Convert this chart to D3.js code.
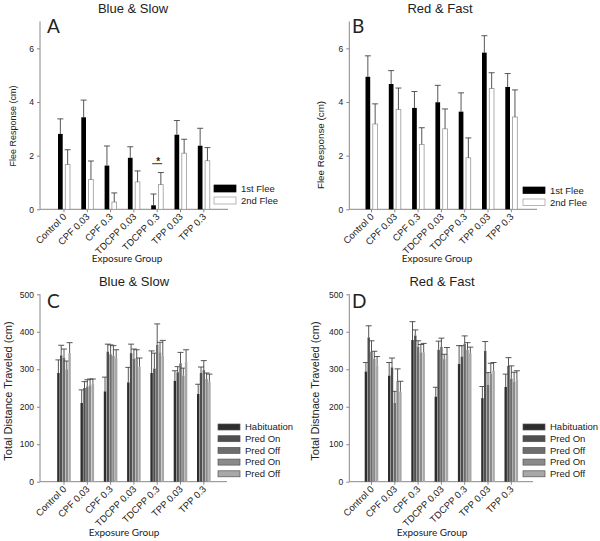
<!DOCTYPE html>
<html><head><meta charset="utf-8">
<script src="https://cdn.jsdelivr.net/npm/d3@7"></script>
<style>
body{margin:0;background:#fff;}
svg{display:block;}
text{font-family:"Liberation Sans",Arial,sans-serif;fill:#222;}
</style></head>
<body>
<svg id="chart" width="600" height="541"></svg>
<script>
// ---------- DATA ----------
const categories = ["Control 0","CPF 0.03","CPF 0.3","TDCPP 0.03","TDCPP 0.3","TPP 0.03","TPP 0.3"];
const fleeSeries = ["1st Flee","2nd Flee"];
const fleeTicks = [0,2,4,6];
const distTicks = [0,100,200,300,400,500];

// Panel A: Blue & Slow (flee response, cm)
const slowFlee1 = [2.81, 3.43, 1.63, 1.92, 0.15, 2.78, 2.37];
const slowFlee1Err = [0.56, 0.64, 0.73, 0.41, 0.42, 0.53, 0.65];
const slowFlee2 = [1.67, 1.11, 0.27, 1.02, 0.92, 2.09, 1.81];
const slowFlee2Err = [0.55, 0.69, 0.34, 0.41, 0.45, 0.52, 0.49];

// Panel B: Red & Fast
const fastFlee1 = [4.94, 4.67, 3.78, 3.99, 3.64, 5.84, 4.56];
const fastFlee1Err = [0.78, 0.50, 0.61, 0.63, 0.70, 0.63, 0.50];
const fastFlee2 = [3.18, 3.72, 2.42, 3.00, 1.92, 4.50, 3.44];
const fastFlee2Err = [0.75, 0.80, 0.62, 0.74, 0.74, 0.59, 1.01];

// Panel C: Blue & Slow (total distance, cm)
const periods = ["Habituation","Pred On","Pred Off","Pred On","Pred Off"];
const slowHab = [290, 210, 241, 265, 290, 269, 234];
const slowHabErr = [35, 35, 38, 40, 59, 27, 26];
const slowOn1 = [337, 250, 347, 343, 302, 292, 290];
const slowOn1Err = [27, 17, 20, 24, 41, 15, 16];
const slowOff1 = [330, 254, 340, 328, 365, 316, 298];
const slowOff1Err = [24, 18, 25, 26, 56, 29, 25];
const slowOn2 = [300, 257, 336, 330, 345, 283, 274];
const slowOn2Err = [22, 17, 27, 22, 27, 20, 16];
const slowOff2 = [343, 261, 330, 307, 336, 320, 267];
const slowOff2Err = [28, 13, 22, 23, 41, 32, 20];

// Panel D: Red & Fast
const fastHab = [294, 283, 378, 227, 314, 223, 253];
const fastHabErr = [24, 35, 49, 25, 49, 31, 34];
const fastOn1 = [385, 305, 390, 352, 334, 349, 309];
const fastOn1Err = [31, 25, 15, 23, 29, 25, 22];
const fastOff1 = [347, 210, 360, 360, 368, 258, 275];
const fastOff1Err = [29, 31, 16, 23, 21, 33, 34];
const fastOn2 = [328, 268, 345, 327, 352, 288, 266];
const fastOn2Err = [20, 33, 21, 13, 19, 28, 26];
const fastOff2 = [309, 240, 345, 338, 343, 296, 273];
const fastOff2Err = [25, 28, 24, 20, 16, 22, 23];

const sigGroup = "TDCPP 0.3";
const sigLevel = 1.7;

// ---------- DRAWING ----------
const svg = d3.select("#chart");
const periodColors = ["#2d2d2d","#4e4e4e","#6d6d6d","#8b8b8b","#a8a8a8"];

function panel(cfg){
  const g = svg.append("g");
  const y = d3.scaleLinear().domain(cfg.yDomain).range([cfg.y0, cfg.yTop]);
  const x = d3.scaleBand().domain(categories).range([cfg.x0, cfg.x0 + 7*23.3]).padding(0);
  const sub = d3.scaleBand().domain(d3.range(cfg.series.length)).range([-cfg.groupHalf, cfg.groupHalf]).padding(0);

  // axes
  const yAxis = d3.axisLeft(y).tickValues(cfg.ticks).tickSize(3).tickPadding(3).tickFormat(d3.format("d"));
  const ya = g.append("g").attr("transform", `translate(${cfg.axisX},0)`).call(yAxis);
  ya.select(".domain").remove();
  ya.selectAll("line").attr("stroke","#888");
  ya.selectAll("text").style("font-size","8.5px").attr("fill","#222");
  g.append("line").attr("x1",cfg.axisX).attr("x2",cfg.axisX).attr("y1",cfg.y0).attr("y2",cfg.yTop).attr("stroke","#888");
  g.append("line").attr("x1",cfg.axisX).attr("x2",cfg.axisEnd).attr("y1",cfg.y0).attr("y2",cfg.y0).attr("stroke","#888");

  // x ticks + labels
  categories.forEach(c=>{
    const cx = x(c) + x.bandwidth()/2;
    g.append("line").attr("x1",cx).attr("x2",cx).attr("y1",cfg.y0).attr("y2",cfg.y0+3).attr("stroke","#888");
    g.append("text").text(c)
      .attr("transform",`translate(${cx+3},${cfg.y0+8}) rotate(-45)`)
      .attr("text-anchor","end").style("font-size","9.5px");
  });

  // bars
  cfg.series.forEach((s, si)=>{
    categories.forEach((c, ci)=>{
      const cx = x(c) + x.bandwidth()/2 + sub(si) + sub.bandwidth()/2;
      const v = s.values[ci], e = s.err[ci];
      g.append("rect")
        .attr("x", cx - cfg.barW/2).attr("width", cfg.barW)
        .attr("y", y(v)).attr("height", cfg.y0 - y(v))
        .attr("fill", s.fill).attr("stroke", s.stroke || "none").attr("stroke-width", s.stroke ? 0.8 : 0);
      g.append("line").attr("x1",cx).attr("x2",cx).attr("y1",y(v)).attr("y2",y(v+e)).attr("stroke","#444").attr("stroke-width",0.9);
      g.append("line").attr("x1",cx-cfg.capW/2).attr("x2",cx+cfg.capW/2).attr("y1",y(v+e)).attr("y2",y(v+e)).attr("stroke","#444").attr("stroke-width",0.9);
    });
  });

  // title, letter, labels
  g.append("text").text(cfg.title).attr("x",cfg.titleX).attr("y",cfg.titleY).attr("text-anchor","middle").style("font-size","13px");
  g.append("text").text(cfg.letter).attr("x",cfg.letterX).attr("y",cfg.letterY).style("font-family","Lato, sans-serif").style("font-size","19px");
  g.append("text").text(cfg.yLabel).attr("transform",`translate(${cfg.yLabelX},${cfg.yLabelY}) rotate(-90)`).attr("text-anchor","middle").style("font-size",cfg.yLabelSize);
  g.append("text").text("Exposure Group").attr("x",cfg.xLabelX).attr("y",cfg.xLabelY).attr("text-anchor","middle").style("font-family","Lato, sans-serif").style("font-size","10px");

  // legend
  cfg.series.forEach((s, si)=>{
    const ly = cfg.legY + si*cfg.legStep;
    g.append("rect").attr("x",cfg.legX).attr("y",ly).attr("width",22).attr("height",cfg.legH)
      .attr("fill",s.fill).attr("stroke",s.legStroke).attr("stroke-width",0.7);
    g.append("text").text(s.name).attr("x",cfg.legX+27).attr("y",ly+cfg.legH/2+3.3).style("font-size","9.5px");
  });
  return {g, x, y};
}

const fleeStyle = (v1,e1,v2,e2)=>[
  {name:fleeSeries[0], values:v1, err:e1, fill:"#000", legStroke:"#000"},
  {name:fleeSeries[1], values:v2, err:e2, fill:"#fff", stroke:"#999", legStroke:"#999"}
];
const distStyle = (arr)=>arr.map((a,i)=>({name:periods[i], values:a[0], err:a[1], fill:periodColors[i], legStroke:"#555"}));

const A = panel({yDomain:[0,7], y0:209.3, yTop:21.5, x0:52.35, axisX:40, axisEnd:228, ticks:fleeTicks,
  series:fleeStyle(slowFlee1,slowFlee1Err,slowFlee2,slowFlee2Err), groupHalf:7.3, barW:4.7, capW:6,
  title:"Blue & Slow", titleX:133, titleY:13, letter:"A", letterX:47, letterY:33,
  yLabel:"Flee Response (cm)", yLabelX:16, yLabelY:126, yLabelSize:"9px", xLabelX:127, xLabelY:262,
  legX:214, legY:185, legStep:12, legH:7});
// significance marker
{
  const cx = A.x(sigGroup) + A.x.bandwidth()/2;
  A.g.append("line").attr("x1",cx-5).attr("x2",cx+5).attr("y1",A.y(sigLevel)).attr("y2",A.y(sigLevel)).attr("stroke","#333");
  A.g.append("text").text("*").attr("x",cx+1).attr("y",A.y(sigLevel)+1).attr("text-anchor","middle").style("font-size","10px").style("font-weight","bold");
}

panel({yDomain:[0,7], y0:209.3, yTop:21.5, x0:359.85, axisX:349.3, axisEnd:537, ticks:fleeTicks,
  series:fleeStyle(fastFlee1,fastFlee1Err,fastFlee2,fastFlee2Err), groupHalf:7.3, barW:4.7, capW:6,
  title:"Red & Fast", titleX:440, titleY:13, letter:"B", letterX:352, letterY:33,
  yLabel:"Flee Response (cm)", yLabelX:324, yLabelY:145, yLabelSize:"9.8px", xLabelX:437, xLabelY:262,
  legX:523, legY:187, legStep:12, legH:6.5});

panel({yDomain:[0,500], y0:481.7, yTop:294.3, x0:52.35, axisX:40, axisEnd:227, ticks:distTicks,
  series:distStyle([[slowHab,slowHabErr],[slowOn1,slowOn1Err],[slowOff1,slowOff1Err],[slowOn2,slowOn2Err],[slowOff2,slowOff2Err]]),
  groupHalf:7, barW:2.4, capW:6,
  title:"Blue & Slow", titleX:134, titleY:286, letter:"C", letterX:47, letterY:308,
  yLabel:"Total Distance Traveled (cm)", yLabelX:12, yLabelY:391, yLabelSize:"11px", xLabelX:124, xLabelY:536,
  legX:218, legY:424, legStep:11.7, legH:6});

panel({yDomain:[0,500], y0:481.7, yTop:294.3, x0:359.85, axisX:349.3, axisEnd:533, ticks:distTicks,
  series:distStyle([[fastHab,fastHabErr],[fastOn1,fastOn1Err],[fastOff1,fastOff1Err],[fastOn2,fastOn2Err],[fastOff2,fastOff2Err]]),
  groupHalf:7, barW:2.4, capW:6,
  title:"Red & Fast", titleX:442, titleY:286, letter:"D", letterX:352, letterY:308,
  yLabel:"Total Distnace Traveled (cm)", yLabelX:319, yLabelY:391, yLabelSize:"11px", xLabelX:432, xLabelY:536,
  legX:523, legY:424, legStep:11.7, legH:6});
</script>
</body></html>
